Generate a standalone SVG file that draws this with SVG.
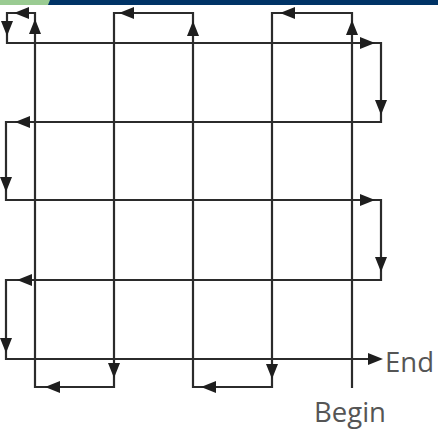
<svg xmlns="http://www.w3.org/2000/svg" width="438" height="431" viewBox="0 0 438 431">
  <style>
    .line { fill: none; stroke: #2b2b2b; stroke-width: 2.2; stroke-linejoin: miter; }
    .head { fill: #1e1e1e; }
    .label { font-family: "Open Sans", "Liberation Sans", sans-serif; font-size: 28px; fill: #555555; }
  </style>
  <defs>
    <path id="ah" class="head" d="M0,0 L-15,-6 L-15,6 Z"/>
  </defs>
  <rect width="438" height="431" fill="#ffffff"/>
  <g id="header">
    <rect x="0" y="0" width="438" height="5" fill="#003366"/>
    <polygon points="0,0 50,0 48,5 0,5" fill="#9acb92"/>
  </g>
  <g id="connectors">
    <path class="line" d="M352,388 V13 H272 V387 H193 V13 H114 V387 H35 V13 H7 V43 H381 V122 H6 V200 H381 V280 H6 V359 H380"/>
    <use href="#ah" transform="translate(352,20) rotate(-90)"/>
    <use href="#ah" transform="translate(280,13) rotate(180)"/>
    <use href="#ah" transform="translate(272,379) rotate(90)"/>
    <use href="#ah" transform="translate(201,387) rotate(180)"/>
    <use href="#ah" transform="translate(193,21) rotate(-90)"/>
    <use href="#ah" transform="translate(119,13) rotate(180)"/>
    <use href="#ah" transform="translate(114,378) rotate(90)"/>
    <use href="#ah" transform="translate(45,387) rotate(180)"/>
    <use href="#ah" transform="translate(35,19) rotate(-90)"/>
    <use href="#ah" transform="translate(14,13) rotate(180)"/>
    <use href="#ah" transform="translate(7,36) rotate(90)"/>
    <use href="#ah" transform="translate(375,43)"/>
    <use href="#ah" transform="translate(381,115) rotate(90)"/>
    <use href="#ah" transform="translate(15,122) rotate(180)"/>
    <use href="#ah" transform="translate(6,192) rotate(90)"/>
    <use href="#ah" transform="translate(375,200)"/>
    <use href="#ah" transform="translate(381,272) rotate(90)"/>
    <use href="#ah" transform="translate(17,280) rotate(180)"/>
    <use href="#ah" transform="translate(6,353) rotate(90)"/>
    <use href="#ah" transform="translate(383,359)"/>
  </g>
  <g id="end">
    <text class="label" x="385" y="372" textLength="49" lengthAdjust="spacingAndGlyphs">End</text>
  </g>
  <g id="begin">
    <text class="label" x="314" y="422" textLength="72" lengthAdjust="spacingAndGlyphs">Begin</text>
  </g>
</svg>
